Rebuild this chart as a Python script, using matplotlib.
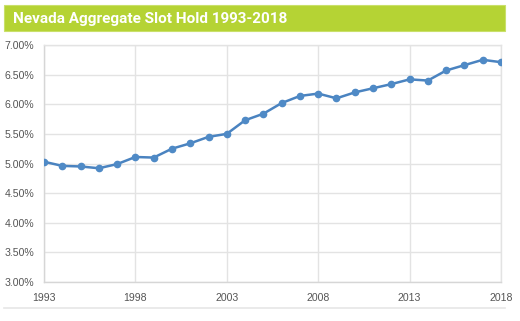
import matplotlib
matplotlib.use("Agg")
from matplotlib import pyplot as plt
from matplotlib.patches import Rectangle
from matplotlib.lines import Line2D
from matplotlib.ticker import FuncFormatter

years = list(range(1993, 2019))
hold = [5.03, 4.96, 4.95, 4.92, 4.99, 5.11, 5.10, 5.25, 5.34, 5.45, 5.50, 5.73, 5.84,
        6.02, 6.14, 6.18, 6.10, 6.20, 6.27, 6.34, 6.42, 6.40, 6.57, 6.66, 6.75, 6.71]
xticks = [1993, 1998, 2003, 2008, 2013, 2018]
yticks = [3.0, 3.5, 4.0, 4.5, 5.0, 5.5, 6.0, 6.5, 7.0]
title = "Nevada Aggregate Slot Hold 1993-2018"

plt.rcParams['font.family'] = ['Liberation Sans', 'DejaVu Sans']

fig = plt.figure(figsize=(5.2, 3.21), dpi=100)

# green title bar
fig.patches.append(Rectangle((4 / 520, 1 - 31 / 321), 501 / 520, 26 / 321,
                             transform=fig.transFigure, facecolor='#b5d334',
                             edgecolor='#c9e06a', linewidth=0.8))
fig.text(13 / 520, 1 - 18.5 / 321, title, color='white', fontsize=11,
         fontweight='bold', va='center', ha='left', family=['Roboto', 'DejaVu Sans'])
# separator line at bottom
fig.lines.append(Line2D([4 / 520, 505 / 520], [1 - 308 / 321] * 2,
                        transform=fig.transFigure, color='#e6e6e6', linewidth=1.2))

ax = fig.add_axes([44 / 520, 1 - 282 / 321, 457 / 520, 237 / 321])
ax.plot(years, hold, color='#4a83c0', linewidth=1.8, marker='o', markersize=4.5,
        markerfacecolor='#4f8ac6', markeredgecolor='#4f8ac6', zorder=3)

ax.set_xlim(1993, 2018)
ax.set_ylim(3.0, 7.0)
ax.set_xticks(xticks)
ax.set_yticks(yticks)
ax.yaxis.set_major_formatter(FuncFormatter(lambda v, p: f"{v:.2f}%"))
ax.grid(True, color='#e3e3e3', linewidth=1)
ax.set_axisbelow(True)
for s in ax.spines.values():
    s.set_color('#e3e3e3')
    s.set_linewidth(1)
ax.spines['left'].set_color('#d6d6d6')
ax.spines['bottom'].set_color('#d6d6d6')
ax.tick_params(length=0, labelsize=7.6, labelcolor='#555555')
ax.tick_params(axis='y', pad=7)
ax.tick_params(axis='x', pad=8)

fig.savefig("out.png", dpi=100)
